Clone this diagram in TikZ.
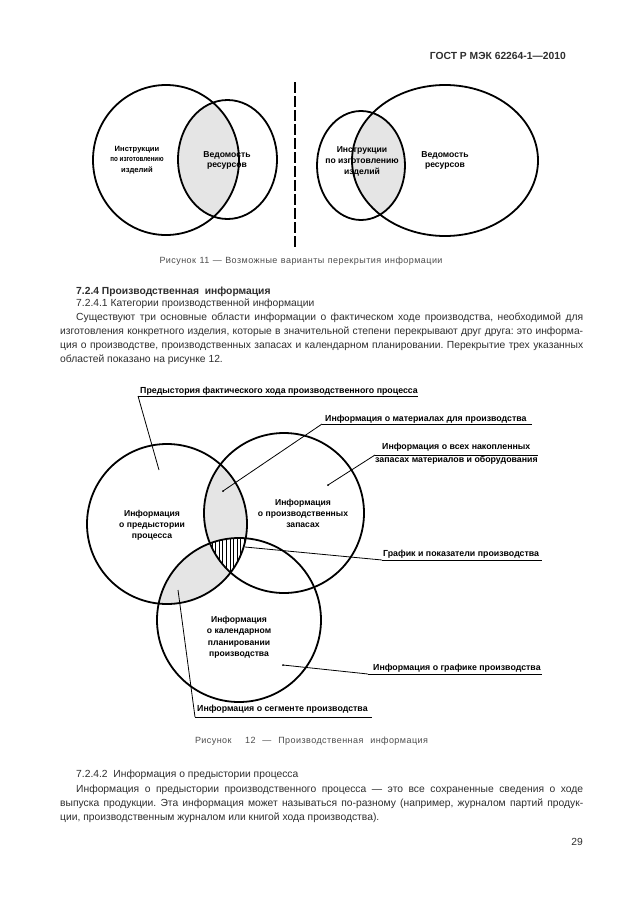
\documentclass[tikz,border=0pt]{standalone}
\usepackage{fontspec}
\usepackage{graphicx}
\setmainfont{Liberation Sans}
\newfontfamily\bodyfam{Liberation Sans}
\newfontfamily\capfam{Liberation Sans}[LetterSpace=5]
\usetikzlibrary{calc}
\definecolor{bodytxt}{gray}{0.18}
\definecolor{captxt}{gray}{0.3}
\definecolor{lensgray}{gray}{0.9}
\newcommand{\mybodyf}{\bodyfam\fontsize{10.3}{12}\selectfont\frenchspacing\color{bodytxt}}
\newcommand{\mycapf}{\capfam\fontsize{9}{10}\selectfont\frenchspacing\color{captxt}}
\newcommand{\mylblf}{\fontsize{8.8}{10}\selectfont\bfseries}
\newcommand{\myinf}{\fontsize{8.6}{11}\selectfont\bfseries}
\tikzset{
  venn/.style={line width=1.8pt},
  leader/.style={line width=0.8pt},
  uline/.style={line width=1pt},
  bodyline/.style={anchor=base west, inner sep=0pt, font=\mybodyf},
  lbl/.style={anchor=base west, inner sep=0pt, font=\mylblf},
  intext/.style={align=center, inner sep=0pt, font=\myinf},
  ptdot/.style={fill=black, inner sep=0pt, minimum size=2pt, circle},
}
\begin{document}
\begin{tikzpicture}[x=1pt,y=-1pt]
\useasboundingbox (0,0) rectangle (630,913);
\fill[white] (0,0) rectangle (630,913);

% header
\node[anchor=base east, inner sep=0pt, font=\fontsize{10.3}{11}\selectfont\bfseries\color{bodytxt}] (hdr) at (566,59) {ГОСТ Р МЭК 62264-1—2010};

% ---------- Figure 11 ----------
\begin{scope}
  \clip (166,160) ellipse [x radius=73pt, y radius=75pt];
  \fill[lensgray] (227.5,159.5) ellipse [x radius=49.5pt, y radius=59.5pt];
\end{scope}
\draw[venn] (166,160) ellipse [x radius=73pt, y radius=75pt];
\draw[venn] (227.5,159.5) ellipse [x radius=49.5pt, y radius=59.5pt];
\node[intext, font=\fontsize{7.6}{10.5}\selectfont\bfseries] (l11a) at (137,160) {Инструкции\\\scalebox{0.82}[1]{по изготовлению}\\изделий};
\node[intext, font=\fontsize{8.6}{10}\selectfont\bfseries] (l11b) at (227,160) {Ведомость\\ресурсов};

\coordinate (dtop) at (295,82);
\coordinate (dbot) at (295,247);
\draw[line width=1.8pt, dash pattern=on 11pt off 3pt] (dtop) -- (dbot);

\begin{scope}
  \clip (361,165.5) ellipse [x radius=44pt, y radius=54.5pt];
  \fill[lensgray] (445,160.5) ellipse [x radius=93pt, y radius=75.5pt];
\end{scope}
\draw[venn] (361,165.5) ellipse [x radius=44pt, y radius=54.5pt];
\draw[venn] (445,160.5) ellipse [x radius=93pt, y radius=75.5pt];
\node[intext] (l11c) at (362,161) {Инструкции\\по изготовлению\\изделий};
\node[intext, font=\fontsize{8.6}{10}\selectfont\bfseries] (l11d) at (445,160) {Ведомость\\ресурсов};

\node[anchor=base, inner sep=0pt, font=\mycapf] (cap11) at (301,263) {\makebox[283pt][s]{Рисунок 11 — Возможные варианты перекрытия информации}};

% ---------- Text ----------
\node[bodyline, font=\mybodyf\bfseries] (h724) at (76,294.5) {7.2.4 Производственная \ информация};
\node[bodyline] (h7241) at (76,306.5) {7.2.4.1 Категории производственной информации};
\node[bodyline] (p1a) at (76,320.5) {\makebox[507pt][s]{Существуют три основные области информации о фактическом ходе производства, необходимой для}};
\node[bodyline] (p1b) at (60,334.5) {\makebox[523pt][s]{изготовления конкретного изделия, которые в значительной степени перекрывают друг друга: это информа-}};
\node[bodyline] (p1c) at (60,348.5) {\makebox[523pt][s]{ция о производстве, производственных запасах и календарном планировании. Перекрытие трех указанных}};
\node[bodyline] (p1d) at (60,362.5) {областей показано на рисунке 12.};

% ---------- Figure 12 ----------
\def\cA{(167,524) circle [radius=80pt]}
\def\cB{(284,513) circle [radius=80pt]}
\def\cC{(239,620) circle [radius=82pt]}
\begin{scope}
  \clip \cA;
  \fill[lensgray] \cB;
  \fill[lensgray] \cC;
\end{scope}
\begin{scope}
  \clip \cA; \clip \cB; \clip \cC;
  \fill[white] (190,520) rectangle (260,590);
  \foreach \xx in {201,204.6,...,252} \draw[line width=0.6pt] (\xx,530) -- (\xx,580);
\end{scope}
\draw[venn] \cA;
\draw[venn] \cB;
\draw[venn] \cC;

\node[intext] (tA) at (152,525.5) {Информация\\о предыстории\\процесса};
\node[intext] (tB) at (303,513.5) {Информация\\о производственных\\запасах};
\node[intext, font=\fontsize{8.6}{11.5}\selectfont\bfseries] (tC) at (239,637.5) {Информация\\о календарном\\планировании\\производства};

% labels
\node[lbl] (L1) at (140,393) {Предыстория фактического хода производственного процесса};
\coordinate (u1a) at (138,396); \coordinate (u1b) at (418,396);
\coordinate (p1) at (159,470);
\draw[uline] (u1a) -- (u1b);
\draw[leader] (p1) -- (u1a);

\node[lbl] (L2) at (325,421) {Информация о материалах для производства};
\coordinate (u2a) at (322,424); \coordinate (u2b) at (532,424);
\coordinate (p2) at (223,491);
\draw[uline] (u2a) -- (u2b);
\draw[leader] (p2) -- (u2a);
\node[ptdot] (d2) at (p2) {};

\node[lbl] (L3a) at (382,449) {Информация о всех накопленных};
\node[lbl] (L3b) at (375,462.5) {запасах материалов и оборудования};
\coordinate (u3a) at (375,455); \coordinate (u3b) at (538,455);
\coordinate (p3) at (328,485);
\draw[uline] (u3a) -- (u3b);
\draw[leader] (p3) -- (u3a);
\node[ptdot] (d3) at (p3) {};

\node[lbl] (L4) at (383,556) {График и показатели производства};
\coordinate (u4a) at (382,560); \coordinate (u4b) at (542,560);
\coordinate (p4) at (245,547);
\draw[uline] (u4a) -- (u4b);
\draw[leader] (p4) -- (u4a);

\node[lbl] (L5) at (373,670) {Информация о графике производства};
\coordinate (u5a) at (368,674); \coordinate (u5b) at (542,674);
\coordinate (p5) at (283,665);
\draw[uline] (u5a) -- (u5b);
\draw[leader] (p5) -- (u5a);
\node[ptdot] (d5) at (p5) {};

\node[lbl] (L6) at (197,711) {Информация о сегменте производства};
\coordinate (u6a) at (195,717); \coordinate (u6b) at (372,717);
\coordinate (p6) at (178,590);
\draw[uline] (u6a) -- (u6b);
\draw[leader] (p6) -- (u6a);

\node[anchor=base, inner sep=0pt, font=\mycapf] (cap12) at (311.5,743) {\makebox[233pt][s]{Рисунок \ 12 — Производственная информация}};

% ---------- Text 2 ----------
\node[bodyline] (h7242) at (76,777.5) {7.2.4.2 \ Информация о предыстории процесса};
\node[bodyline] (p2a) at (76,792.5) {\makebox[507pt][s]{Информация о предыстории производственного процесса — это все сохраненные сведения о ходе}};
\node[bodyline] (p2b) at (60,806.5) {\makebox[523pt][s]{выпуска продукции. Эта информация может называться по-разному (например, журналом партий продук-}};
\node[bodyline] (p2c) at (60,820.5) {ции, производственным журналом или книгой хода производства).};
\node[bodyline, anchor=base east] (pg) at (583,845) {29};
\end{tikzpicture}
\end{document}
